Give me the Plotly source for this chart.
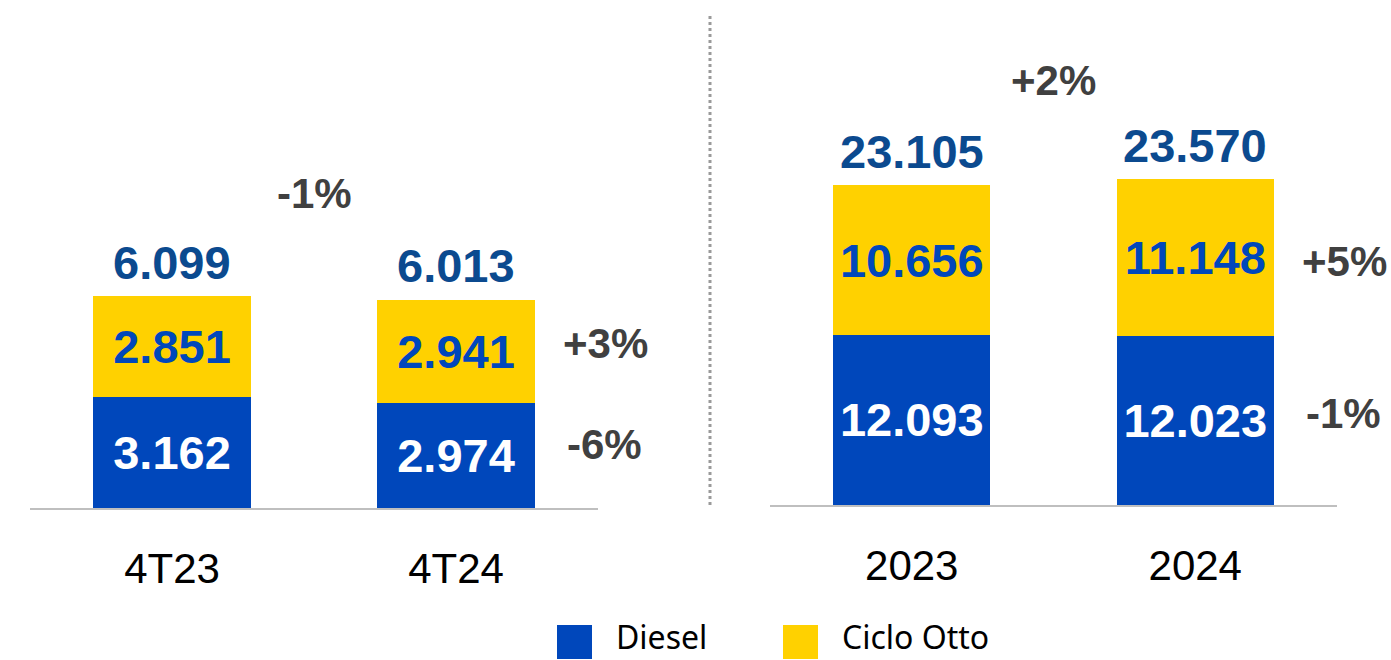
import plotly.graph_objects as go

# ---------------- data ----------------
quarters = ["4T23", "4T24"]
q_diesel = [3162, 2974]
q_otto = [2851, 2941]
q_total = [6099, 6013]

years = ["2023", "2024"]
y_diesel = [12093, 12023]
y_otto = [10656, 11148]
y_total = [23105, 23570]

q_var = {"total": "-1%", "otto": "+3%", "diesel": "-6%"}
y_var = {"total": "+2%", "otto": "+5%", "diesel": "-1%"}

series_names = ["Diesel", "Ciclo Otto"]
series_colors = ["#0047BB", "#FFD100"]
inside_text_colors = ["#FFFFFF", "#0047BB"]
TOTAL_COLOR = "#0B4A8F"
VAR_COLOR = "#404040"
FONT = "Liberation Sans"
NUM_SIZE = 47
VAR_SIZE = 42

W, H = 1391, 660


def fmt(v):
    return f"{v:,}".replace(",", ".")


fig = go.Figure()

for xa, ya, cats, d, o in [("x", "y", quarters, q_diesel, q_otto),
                           ("x2", "y2", years, y_diesel, y_otto)]:
    for vals, name, col, tcol in zip([d, o], series_names, series_colors, inside_text_colors):
        fig.add_trace(go.Bar(
            x=cats, y=vals, name=name, marker_color=col, marker_line_width=0,
            text=[fmt(v) for v in vals], textposition="inside", insidetextanchor="middle",
            textfont=dict(family=FONT, size=NUM_SIZE, color=tcol, weight="bold"),
            xaxis=xa, yaxis=ya, showlegend=False, hoverinfo="skip",
        ))

annotations = []
panels = [
    ("x", "y", q_total, q_diesel, q_otto, q_var, dict(top=103, otto=8, diesel=11)),
    ("x2", "y2", y_total, y_diesel, y_otto, y_var, dict(top=99, otto=-4, diesel=7)),
]
for xr, yr, tot, d, o, var, sh in panels:
    stack_tops = [a + b for a, b in zip(d, o)]
    for i, (t, top) in enumerate(zip(tot, stack_tops)):
        annotations.append(dict(x=i, y=top, xref=xr, yref=yr, text=f"<b>{fmt(t)}</b>",
                                showarrow=False, yshift=34, yanchor="middle",
                                font=dict(family=FONT, size=NUM_SIZE, color=TOTAL_COLOR)))
    annotations.append(dict(x=0.5, y=max(stack_tops), xref=xr, yref=yr, text=f"<b>{var['total']}</b>",
                            showarrow=False, yshift=sh["top"], yanchor="middle",
                            font=dict(family=FONT, size=VAR_SIZE, color=VAR_COLOR)))
    annotations.append(dict(x=1, y=d[1] + o[1] / 2, xref=f"{xr} domain", yref=yr,
                            text=f"<b>{var['otto']}</b>", showarrow=False, xanchor="center",
                            xshift=7, yshift=sh["otto"], yanchor="middle",
                            font=dict(family=FONT, size=VAR_SIZE, color=VAR_COLOR)))
    annotations.append(dict(x=1, y=d[1] / 2, xref=f"{xr} domain", yref=yr,
                            text=f"<b>{var['diesel']}</b>", showarrow=False, xanchor="center",
                            xshift=6, yshift=sh["diesel"], yanchor="middle",
                            font=dict(family=FONT, size=VAR_SIZE, color=VAR_COLOR)))

# manual legend
shapes = []
leg_x = [557, 783]
for lx, name, col in zip(leg_x, series_names, series_colors):
    shapes.append(dict(type="rect", xref="paper", yref="paper",
                       x0=lx / W, x1=(lx + 35) / W, y0=1 - 659 / H, y1=1 - 625 / H,
                       fillcolor=col, line_width=0))
    annotations.append(dict(x=(lx + 57) / W, y=0, xref="paper", yref="paper",
                            text=name, showarrow=False, xanchor="left", yanchor="bottom",
                            font=dict(family="Noto Sans", size=32, color="#000000")))

# dotted separator
shapes.append(dict(type="line", xref="paper", yref="paper", x0=710 / W, x1=710 / W,
                   y0=1 - 505 / H, y1=1 - 15 / H,
                   line=dict(color="#9A9A9A", width=3, dash="dot")))

left_scale = 0.0352   # px per unit
right_scale = 0.01406
left_base, right_base = 508, 505

axis_common = dict(type="category", range=[-0.5, 1.5], showline=True, linecolor="#BFBFBF",
                   linewidth=2, ticks="", showgrid=False, zeroline=False,
                   tickfont=dict(family=FONT, size=42, color="#000000"), ticklabelstandoff=23,
                   fixedrange=True)

fig.update_layout(
    width=W, height=H, margin=dict(l=0, r=0, t=0, b=0),
    paper_bgcolor="white", plot_bgcolor="white",
    barmode="stack", bargap=0.447,
    uniformtext=dict(minsize=NUM_SIZE, mode="show"),
    xaxis=dict(domain=[30 / W, 598 / W], anchor="y", **axis_common),
    xaxis2=dict(domain=[770 / W, 1337 / W], anchor="y2", **axis_common),
    yaxis=dict(domain=[1 - left_base / H, 1], range=[0, left_base / left_scale], visible=False,
               anchor="x", fixedrange=True),
    yaxis2=dict(domain=[1 - right_base / H, 1], range=[0, right_base / right_scale], visible=False,
                anchor="x2", fixedrange=True),
    annotations=annotations, shapes=shapes, showlegend=False,
)

fig.write_html("out.html", config={"displayModeBar": False},
               post_script="document.body.style.margin='0';document.body.style.overflow='hidden';")
